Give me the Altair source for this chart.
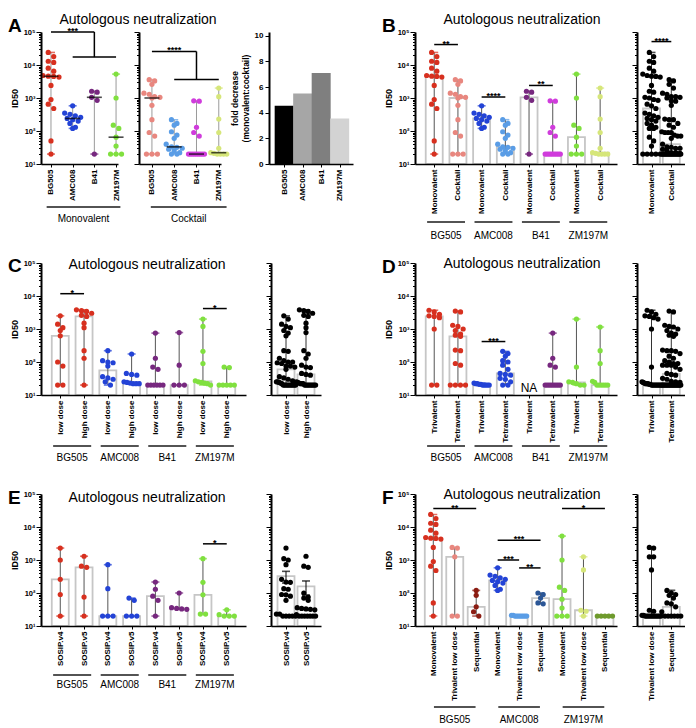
import json
import numpy as np
import pandas as pd
import altair as alt

# ----------------------------- data (ID50 values) -----------------------------
STRAINS = ["BG505", "AMC008", "B41", "ZM197M"]

# Panels A / B : monovalent vs cocktail
BG505_MONO = [24000, 18000, 13000, 12000, 8000, 6500, 4800, 4600, 4500, 4300, 2400, 900, 650, 480, 50, 20]
BG505_COCKTAIL = [3600, 3300, 2600, 1400, 1300, 1100, 1050, 1000, 600, 220, 90, 70, 20, 20, 20]
AMC008_MONO = [580, 350, 320, 290, 260, 240, 220, 200, 170, 130, 120]
AMC008_COCKTAIL = [220, 170, 150, 95, 75, 60, 40, 33, 32, 30, 28, 25, 22, 20, 20]
B41_MONO = [1600, 1500, 1050, 850, 20]
B41_COCKTAIL = [820, 800, 130, 90, 70, 20, 20, 20, 20, 20, 20, 20, 20, 20]
ZM197M_MONO = [5300, 1000, 150, 120, 65, 35, 20, 20, 20]
ZM197M_COCKTAIL = [2000, 1100, 230, 90, 30, 22, 21, 20, 20, 20, 20]
FOLD_DECREASE = [4.55, 5.5, 7.1, 3.55]

# Panel C : low vs high dose
BG505_LOW = [2500, 1400, 1100, 900, 620, 100, 75, 20, 20]
BG505_HIGH = [3800, 3600, 3400, 3000, 2600, 2400, 1500, 1100, 220, 130, 20]
AMC008_LOW = [220, 110, 100, 95, 75, 36, 33, 30, 25, 20]
AMC008_HIGH = [175, 45, 42, 40, 25, 24, 23, 22, 22, 22]
B41_LOW = [750, 130, 70, 60, 20, 20, 20, 20, 20, 20]
B41_HIGH = [780, 80, 20, 20, 20]
ZM197M_LOW = [2000, 1200, 210, 90, 27, 25, 24, 23, 22, 20]
ZM197M_HIGH = [70, 68, 20, 20, 20, 20, 20]

# Panel D : trivalent vs tetravalent
BG505_TRI = [3700, 3300, 2800, 2500, 2400, 2200, 1000, 20, 20]
BG505_TETRA = [3500, 3300, 1300, 1200, 1000, 900, 700, 650, 600, 230, 220, 90, 80, 20, 20, 20, 20]
AMC008_TRI = [23, 22, 22, 21, 21, 20, 20, 20, 20, 20]
AMC008_TETRA = [210, 180, 150, 110, 100, 80, 60, 45, 42, 40, 32, 30, 25, 20, 20]
B41_TRI = []  # NA
B41_TETRA = [750, 130, 80, 70, 20, 20, 20, 20, 20, 20, 20, 20, 20]
ZM197M_TRI = [2000, 70, 25, 24, 22, 20, 20]
ZM197M_TETRA = [1150, 220, 90, 26, 24, 20, 20, 20, 20, 20, 20]

# Panel E : SOSIP.v4 vs SOSIP.v5
BG505_V4 = [2300, 1000, 260, 90, 20]
BG505_V5 = [1300, 650, 600, 75, 20]
AMC008_V4 = [720, 135, 20, 20, 20]
AMC008_V5 = [70, 60, 20, 20, 20]
B41_V4 = [215, 130, 80, 60, 20]
B41_V5 = [100, 36, 34, 33, 32]
ZM197M_V4 = [1100, 210, 88, 23, 23]
ZM197M_V5 = [31, 22, 20, 20, 20]

# Panel F : monovalent / trivalent low dose / sequential
BG505_TRI_LOW = [2400, 2300, 1250, 20, 20]
BG505_SEQ = [120, 85, 38, 27, 20]
AMC008_TRI_LOW = [21, 21, 20, 20, 20, 20, 20, 20, 20, 20]
AMC008_SEQ = [100, 90, 70, 50, 47]
ZM197M_TRI_LOW = [1250, 500, 30, 28, 20]
ZM197M_SEQ = [20, 20, 20, 20, 20]

# significance annotations: (from column, to column, log10 level, label)
SIG_B = [(0, 1, 4.62, "**"), (2, 3, 3.03, "****"), (4, 5, 3.38, "**")]
SIG_BSUM = [(0, 1, 4.71, "****")]
SIG_C = [(0, 1, 4.07, "*"), (6, 7, 3.62, "*")]
SIG_D = [(2, 3, 2.62, "***")]
SIG_E = [(6, 7, 3.49, "*")]
SIG_F = [(0, 2, 4.56, "**"), (3, 5, 3.60, "***"), (3, 4, 3.00, "***"), (4, 5, 2.76, "**"), (6, 8, 4.56, "*")]
# bracket comparisons of panel A: (x1, x2, log10 y1, log10 y2)
BRACKET_A1 = [(0, 2, 5.0, 5.0), (2, 2, 5.0, 4.24), (1, 3, 4.24, 4.24)]
BRACKET_A2 = [(0, 2, 4.41, 4.41), (2, 2, 4.41, 3.56), (1, 3, 3.56, 3.56)]
STARS_A1 = [(1, 5.0, "***")]
STARS_A2 = [(1, 4.41, "****")]

# ----------------------------- style -----------------------------
RED, SALMON, DARKRED = "#d7301f", "#e8877f", "#8b1c12"
BLUE, LIGHTBLUE, DARKBLUE = "#2343d6", "#5a9de6", "#2b5696"
PURPLE, MAGENTA = "#77287f", "#d03cdc"
GREEN, PALEGREEN, OLIVE = "#80e03f", "#d6e67a", "#6e9a2c"
FOLD_COLORS = ["#000000", "#a6a6a6", "#7f7f7f", "#d3d3d3"]
FONT = "Liberation Sans"

H = 132
PXD = H / 4.0
DOT = 5.5
TICKS = [m * 10 ** k for k in range(1, 5) for m in range(1, 10)] + [100000]
MAJOR = "abs(log(datum.value)/LN10 - round(log(datum.value)/LN10)) < 0.000001"
SUP = "['\u2070','\u00b9','\u00b2','\u00b3','\u2074','\u2075']"
YLABEL = MAJOR + " ? '10' + " + SUP + "[round(log(datum.value)/LN10)] : ''"


def swarm(vals, ppu, maxhalf):
    logs = np.log10(np.asarray(vals, float)) * PXD
    order = np.argsort(-logs, kind="stable")
    offs = np.zeros(len(vals))
    clusters, cur = [], []
    for idx in order:
        if cur and logs[cur[0]] - logs[idx] > DOT * 0.8:
            clusters.append(cur)
            cur = []
        cur.append(idx)
    if cur:
        clusters.append(cur)
    for cl in clusters:
        n = len(cl)
        if n == 1:
            continue
        w = min((n - 1) * DOT, 2 * maxhalf)
        pos = np.linspace(-w / 2, w / 2, n)
        for k, idx in enumerate(cl):
            offs[idx] = pos[k]
    return offs / ppu


def x_axis(names):
    return alt.Axis(values=list(range(len(names))), labelExpr=json.dumps(names) + "[datum.value]",
                    labelAngle=270, labelFontSize=8, labelFontWeight="bold", labelFlush=False,
                    labelOverlap=False, labelPadding=2, tickSize=3, tickWidth=1, domainWidth=1.5,
                    domainColor="black", tickColor="black", labelColor="black", grid=False,
                    title=None, zindex=1)


def y_axis(labels):
    common = dict(values=TICKS, tickSize={"condition": {"test": MAJOR, "value": 5}, "value": 2.5},
                  tickWidth=1, domainWidth=2, domainColor="black", tickColor="black", grid=False,
                  labelOverlap=False, zindex=1)
    if labels:
        return alt.Axis(labelExpr=YLABEL, labelFontSize=7.5, labelFontWeight="bold", labelPadding=1,
                        labelColor="black", title="ID50", titleFontSize=9, titleFontWeight="bold",
                        titlePadding=3, titleColor="black", **common)
    return alt.Axis(labels=False, title=None, **common)


def dot_panel(cols, width, xdom, ylabels=True, style="bar", segs=(), stars=(), groups=(),
              gline=50, gtext=65, title=None, title_x=100, title_y=-8, letter=None, letter_y=0,
              maxhalf=8.0, stat="median", whisk="#555555", na=(), cap_color=None):
    ppu = width / (xdom[1] - xdom[0])
    pts, stats, caps = [], [], []
    for i, c in enumerate(cols):
        vals = c["values"]
        if len(vals) == 0:
            continue
        for v, o in zip(vals, swarm(vals, ppu, maxhalf)):
            pts.append({"x": i + o, "v": v, "c": c["color"]})
        arr = np.asarray(vals, float)
        if stat == "mean":
            m = arr.mean()
            se = arr.std(ddof=1) / np.sqrt(len(arr))
            ctr, lo, hi = m, m - se, m + se
        else:
            ctr, lo, hi = float(np.median(arr)), float(arr.min()), float(arr.max())
        stats.append({"x": i, "ctr": ctr, "lo": lo, "hi": hi, "base": 10.0, "c": c["color"]})
        cc = cap_color or c["color"]
        caps.append({"x": i, "v": lo, "c": cc})
        caps.append({"x": i, "v": hi, "c": cc})

    xs = alt.Scale(domain=list(xdom), nice=False, zero=False)
    ys = alt.Scale(type="log", domain=[10, 100000], nice=False)
    names = [c["label"] for c in cols]
    xax = x_axis(names)
    yax = y_axis(ylabels)

    def X(f):
        return alt.X(f, type="quantitative", scale=xs, axis=xax)

    def Y(f):
        return alt.Y(f, type="quantitative", scale=ys, axis=yax)

    st = pd.DataFrame(stats)
    layers = []
    if style == "bar":
        layers.append(alt.Chart(st).mark_bar(size=17, fill="white", stroke="#c6c6c6", strokeWidth=1.8)
                      .encode(x=X("x"), y=Y("ctr"), y2="base:Q"))
    layers.append(alt.Chart(st).mark_rule(color=whisk, strokeWidth=1)
                  .encode(x=X("x"), y=Y("lo"), y2="hi:Q"))
    layers.append(alt.Chart(pd.DataFrame(caps)).mark_tick(orient="horizontal", size=8, thickness=1.6)
                  .encode(x=X("x"), y=Y("v"), color=alt.Color("c:N", scale=None)))
    layers.append(alt.Chart(pd.DataFrame(pts)).mark_circle(size=27, opacity=1)
                  .encode(x=X("x"), y=Y("v"), color=alt.Color("c:N", scale=None)))
    if style == "median":
        layers.append(alt.Chart(st).mark_tick(orient="horizontal", size=15, thickness=1.6, color="black")
                      .encode(x=X("x"), y=Y("ctr")))
    if segs:
        sd = pd.DataFrame([{"x": a, "x2": b, "y": 10 ** y1, "y2": 10 ** y2} for a, b, y1, y2 in segs])
        layers.append(alt.Chart(sd).mark_rule(color="black", strokeWidth=1.5)
                      .encode(x=X("x"), x2="x2:Q", y=Y("y"), y2="y2:Q"))
    if stars:
        td = pd.DataFrame([{"x": a, "y": 10 ** y, "t": t} for a, y, t in stars])
        layers.append(alt.Chart(td).mark_text(fontSize=9, fontWeight="bold", baseline="alphabetic", dy=2)
                      .encode(x=X("x"), y=Y("y"), text="t:N"))
    for xv, txt in na:
        layers.append(alt.Chart(pd.DataFrame({"x": [xv], "y": [16], "t": [txt]}))
                      .mark_text(fontSize=12, baseline="middle")
                      .encode(x=X("x"), y=Y("y"), text="t:N"))
    if groups:
        gd = pd.DataFrame([{"g": g, "c": c, "x1": c - hw, "x2": c + hw} for g, c, hw in groups])
        layers.append(alt.Chart(gd).mark_rule(color="#1a1a1a", strokeWidth=1.5)
                      .encode(x=X("x1"), x2="x2:Q", y=alt.value(H + gline)))
        layers.append(alt.Chart(gd).mark_text(fontSize=10, baseline="alphabetic")
                      .encode(x=X("c"), y=alt.value(H + gtext), text="g:N"))
    if title:
        layers.append(alt.Chart(pd.DataFrame({"t": [title]})).mark_text(fontSize=14, baseline="alphabetic")
                      .encode(x=alt.value(title_x), y=alt.value(title_y), text="t:N"))
    if letter:
        layers.append(alt.Chart(pd.DataFrame({"t": [letter]}))
                      .mark_text(fontSize=19, fontWeight="bold", align="left", baseline="alphabetic")
                      .encode(x=alt.value(-33), y=alt.value(letter_y), text="t:N"))
    return alt.layer(*layers).properties(width=width, height=H)


def cols_of(labels, arrays, colors):
    return [{"label": l, "values": list(a), "color": c} for l, a, c in zip(labels, arrays, colors)]


def pooled(*arrays):
    out = []
    for a in arrays:
        out += list(a)
    return out


def spacer(w):
    return (alt.Chart(pd.DataFrame({"s": [0]})).mark_point(opacity=0)
            .encode(x=alt.value(0), y=alt.value(0)).properties(width=w, height=H))


def sig_parts(sig):
    segs = [(a, b, y, y) for a, b, y, t in sig]
    stars = [((a + b) / 2, y, t) for a, b, y, t in sig]
    return segs, stars


def groups_of(names, size):
    return [(g, i * size + (size - 1) / 2, 0.8 if size == 2 else 0.97) for i, g in enumerate(names)]


TITLE = "Autologous neutralization"
BLACK = "#000000"
SUMHALF = 12.0

# ---------------- Row 1 : A and B ----------------
monos = [BG505_MONO, AMC008_MONO, B41_MONO, ZM197M_MONO]
cocks = [BG505_COCKTAIL, AMC008_COCKTAIL, B41_COCKTAIL, ZM197M_COCKTAIL]

A1 = dot_panel(cols_of(STRAINS, monos, [RED, BLUE, PURPLE, GREEN]), 77, (-0.46, 3.09),
               style="median", whisk="#9a9a9a", segs=BRACKET_A1, stars=STARS_A1,
               groups=[("Monovalent", 1.5, 1.7)], gline=43, gtext=58,
               title=TITLE, title_x=97, title_y=-8, letter="A", letter_y=0)
A2 = dot_panel(cols_of(STRAINS, cocks, [SALMON, LIGHTBLUE, MAGENTA, PALEGREEN]), 82, (-0.58, 3.1),
               ylabels=False, style="median", whisk="#9a9a9a", segs=BRACKET_A2, stars=STARS_A2,
               groups=[("Cocktail", 1.65, 1.7)], gline=43, gtext=58)

fold = pd.DataFrame({"x": list(range(4)), "f": FOLD_DECREASE, "c": FOLD_COLORS})
A3 = alt.Chart(fold).mark_bar(size=19).encode(
    x=alt.X("x:Q", scale=alt.Scale(domain=[-0.55, 3.45], nice=False, zero=False), axis=x_axis(STRAINS)),
    y=alt.Y("f:Q", scale=alt.Scale(domain=[0, 10.3], nice=False),
            axis=alt.Axis(values=[0, 2, 4, 6, 8, 10], labelFontSize=8, labelFontWeight="bold",
                          labelColor="black", tickSize=4, tickColor="black", domainColor="black",
                          domainWidth=2, grid=False, zindex=1,
                          title=["fold decrease", "(monovalent:cocktail)"], titleFontSize=8.5,
                          titleFontWeight="bold", titlePadding=4, titleColor="black")),
    color=alt.Color("c:N", scale=None),
).properties(width=84, height=H)

b_cols = cols_of(["Monovalent", "Cocktail"] * 4,
                 [BG505_MONO, BG505_COCKTAIL, AMC008_MONO, AMC008_COCKTAIL,
                  B41_MONO, B41_COCKTAIL, ZM197M_MONO, ZM197M_COCKTAIL],
                 [RED, SALMON, BLUE, LIGHTBLUE, PURPLE, MAGENTA, GREEN, PALEGREEN])
s, t = sig_parts(SIG_B)
B = dot_panel(b_cols, 202, (-0.6, 7.5), segs=s, stars=t, groups=groups_of(STRAINS, 2), gline=58, gtext=75,
              title=TITLE, title_x=107, title_y=-8, letter="B", letter_y=0)
s, t = sig_parts(SIG_BSUM)
Bsum = dot_panel(cols_of(["Monovalent", "Cocktail"], [pooled(*monos), pooled(*cocks)], [BLACK, BLACK]),
                 48, (-0.48, 1.44), ylabels=False, segs=s, stars=t, maxhalf=SUMHALF, whisk="#333333")

# ---------------- Row 2 : C and D ----------------
c_cols = cols_of(["low dose", "high dose"] * 4,
                 [BG505_LOW, BG505_HIGH, AMC008_LOW, AMC008_HIGH, B41_LOW, B41_HIGH, ZM197M_LOW, ZM197M_HIGH],
                 [RED, RED, BLUE, BLUE, PURPLE, PURPLE, GREEN, GREEN])
s, t = sig_parts(SIG_C)
C = dot_panel(c_cols, 205, (-0.6, 7.6), segs=s, stars=t, groups=groups_of(STRAINS, 2), gline=51, gtext=66,
              title=TITLE, title_x=106, title_y=6, letter="C", letter_y=9)
Csum = dot_panel(cols_of(["low dose", "high dose"],
                         [pooled(BG505_LOW, AMC008_LOW, B41_LOW, ZM197M_LOW),
                          pooled(BG505_HIGH, AMC008_HIGH, B41_HIGH, ZM197M_HIGH)], [BLACK, BLACK]),
                 50, (-0.5, 1.5), ylabels=False, maxhalf=SUMHALF, whisk="#333333")

d_cols = cols_of(["Trivalent", "Tetravalent"] * 4,
                 [BG505_TRI, BG505_TETRA, AMC008_TRI, AMC008_TETRA, B41_TRI, B41_TETRA, ZM197M_TRI, ZM197M_TETRA],
                 [RED, RED, BLUE, BLUE, PURPLE, PURPLE, GREEN, GREEN])
s, t = sig_parts(SIG_D)
D = dot_panel(d_cols, 202, (-0.6, 7.5), segs=s, stars=t, groups=groups_of(STRAINS, 2), gline=51, gtext=66,
              title=TITLE, title_x=107, title_y=5, letter="D", letter_y=10, na=[(4, "NA")])
Dsum = dot_panel(cols_of(["Trivalent", "Tetravalent"],
                         [pooled(BG505_TRI, AMC008_TRI, B41_TRI, ZM197M_TRI),
                          pooled(BG505_TETRA, AMC008_TETRA, B41_TETRA, ZM197M_TETRA)], [BLACK, BLACK]),
                 48, (-0.48, 1.44), ylabels=False, maxhalf=SUMHALF, whisk="#333333")

# ---------------- Row 3 : E and F ----------------
e_cols = cols_of(["SOSIP.v4", "SOSIP.v5"] * 4,
                 [BG505_V4, BG505_V5, AMC008_V4, AMC008_V5, B41_V4, B41_V5, ZM197M_V4, ZM197M_V5],
                 [RED, RED, BLUE, BLUE, PURPLE, PURPLE, GREEN, GREEN])
s, t = sig_parts(SIG_E)
E = dot_panel(e_cols, 205, (-0.6, 7.6), segs=s, stars=t, groups=groups_of(STRAINS, 2), gline=49, gtext=62,
              title=TITLE, title_x=106, title_y=8, letter="E", letter_y=10)
Esum = dot_panel(cols_of(["SOSIP.v4", "SOSIP.v5"],
                         [pooled(BG505_V4, AMC008_V4, B41_V4, ZM197M_V4),
                          pooled(BG505_V5, AMC008_V5, B41_V5, ZM197M_V5)], [BLACK, BLACK]),
                 50, (-0.5, 1.5), ylabels=False, maxhalf=SUMHALF, stat="mean", whisk="#000000",
                 cap_color=BLACK)

F_STRAINS = ["BG505", "AMC008", "ZM197M"]
f_cols = cols_of(["Monovalent", "Trivalent low dose", "Sequential"] * 3,
                 [BG505_MONO, BG505_TRI_LOW, BG505_SEQ, AMC008_MONO, AMC008_TRI_LOW, AMC008_SEQ,
                  ZM197M_MONO, ZM197M_TRI_LOW, ZM197M_SEQ],
                 [RED, SALMON, DARKRED, BLUE, LIGHTBLUE, DARKBLUE, GREEN, PALEGREEN, OLIVE])
s, t = sig_parts(SIG_F)
F = dot_panel(f_cols, 202, (-0.62, 8.33), segs=s, stars=t, groups=groups_of(F_STRAINS, 3), gline=81, gtext=97,
              title=TITLE, title_x=107, title_y=5, letter="F", letter_y=10)
Fsum = dot_panel(cols_of(["Trivalent low dose", "Sequential"],
                         [pooled(BG505_TRI_LOW, AMC008_TRI_LOW, ZM197M_TRI_LOW),
                          pooled(BG505_SEQ, AMC008_SEQ, ZM197M_SEQ)], [BLACK, BLACK]),
                 48, (-0.48, 1.44), ylabels=False, maxhalf=SUMHALF, whisk="#333333")

row1 = alt.hconcat(A1, spacer(21), A2, spacer(48), A3, spacer(62), B, spacer(20), Bsum,
                   spacing=0, bounds="flush")
rows23 = alt.concat(C, spacer(25), Csum, spacer(94), D, spacer(20), Dsum,
                    E, spacer(25), Esum, spacer(94), F, spacer(20), Fsum,
                    columns=7, spacing={"row": 99, "column": 0}, bounds="flush")

chart = (alt.vconcat(row1, rows23, spacing=16)
         .properties(padding={"top": 5, "left": 0, "right": 0, "bottom": 0})
         .configure(font=FONT)
         .configure_view(stroke=None))

chart.save("out.html", embed_options={"renderer": "svg", "actions": False})
